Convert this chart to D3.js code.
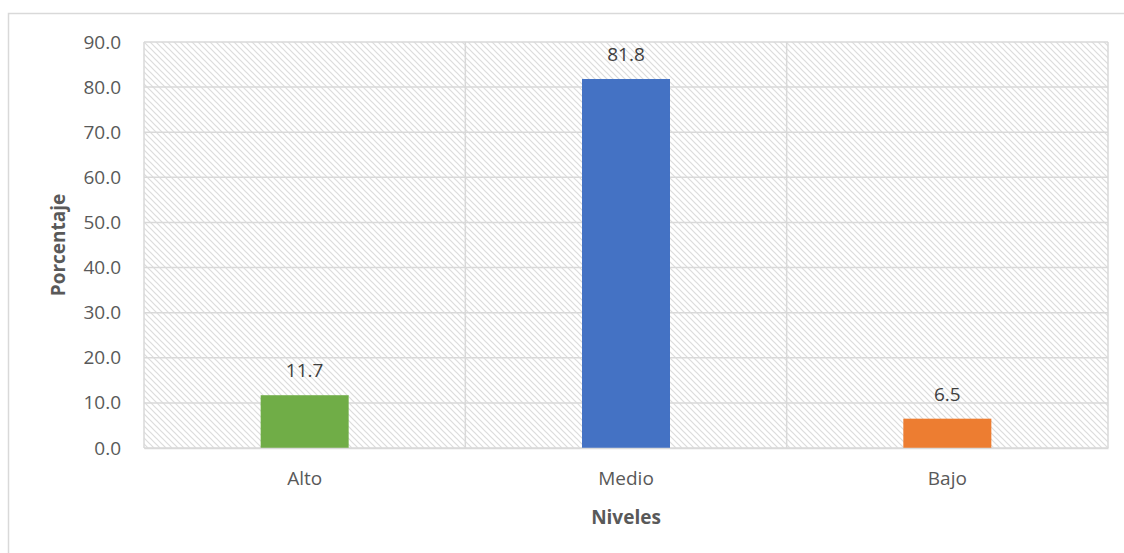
<!DOCTYPE html>
<html>
<head>
<meta charset="utf-8">
<script src="https://cdn.jsdelivr.net/npm/d3@7"></script>
<style>
  body { margin: 0; background: #fff; }
  text { font-family: "Open Sans", Lato, sans-serif; }
</style>
</head>
<body>
<div id="chart-container"></div>
<script>
// Niveles vs porcentaje
const categories = ["Alto", "Medio", "Bajo"];
const values = [11.7, 81.8, 6.5];
const barColors = ["#70AD47", "#4472C4", "#ED7D31"];
const yTicks = [0, 10, 20, 30, 40, 50, 60, 70, 80, 90];

const width = 1124, height = 553;
const plot = { left: 144, right: 1108, top: 42, bottom: 448 };
const fontFam = "'Open Sans', Lato, sans-serif";
const fs = "19px";

const svg = d3.select("#chart-container")
  .append("svg")
  .attr("width", width)
  .attr("height", height);

// outer chart border
svg.append("rect")
  .attr("x", 8.5)
  .attr("y", 13.5)
  .attr("width", width)
  .attr("height", height)
  .attr("fill", "#fff")
  .attr("stroke", "#d9d9d9")
  .attr("stroke-width", 1.5);

// hatch pattern for the plot background
const pat = svg.append("defs").append("pattern")
  .attr("id", "hatch")
  .attr("patternUnits", "userSpaceOnUse")
  .attr("width", 6)
  .attr("height", 6);
pat.append("rect").attr("width", 6).attr("height", 6).attr("fill", "#fff");
pat.append("path")
  .attr("d", "M-1,-1 L7,7 M-1,5 L1,7 M5,-1 L7,1")
  .attr("stroke", "#dcdcdc")
  .attr("stroke-width", 1.2);

const xScale = d3.scaleBand()
  .domain(categories)
  .range([plot.left, plot.right])
  .paddingInner(0)
  .paddingOuter(0);

const yScale = d3.scaleLinear()
  .domain([0, 90])
  .range([plot.bottom, plot.top]);

svg.append("rect")
  .attr("x", plot.left)
  .attr("y", plot.top)
  .attr("width", plot.right - plot.left)
  .attr("height", plot.bottom - plot.top)
  .attr("fill", "url(#hatch)");

// horizontal gridlines
svg.append("g")
  .selectAll("line")
  .data(yTicks)
  .enter()
  .append("line")
  .attr("x1", plot.left)
  .attr("x2", plot.right)
  .attr("y1", d => yScale(d))
  .attr("y2", d => yScale(d))
  .attr("stroke", "#d9d9d9")
  .attr("stroke-width", 1.5);

// vertical gridlines at category boundaries
const bounds = categories.map(c => xScale(c)).concat([plot.right]);
svg.append("g")
  .selectAll("line")
  .data(bounds)
  .enter()
  .append("line")
  .attr("x1", d => d)
  .attr("x2", d => d)
  .attr("y1", plot.top)
  .attr("y2", plot.bottom)
  .attr("stroke", "#d9d9d9")
  .attr("stroke-width", 1.5);

// bars
const barW = 88;
svg.append("g")
  .selectAll("rect")
  .data(values)
  .enter()
  .append("rect")
  .attr("x", (d, i) => xScale(categories[i]) + xScale.bandwidth() / 2 - barW / 2)
  .attr("y", d => yScale(d))
  .attr("width", barW)
  .attr("height", d => yScale(0) - yScale(d))
  .attr("fill", (d, i) => barColors[i]);

// value labels
svg.append("g")
  .selectAll("text")
  .data(values)
  .enter()
  .append("text")
  .attr("x", (d, i) => xScale(categories[i]) + xScale.bandwidth() / 2)
  .attr("y", d => yScale(d) - 18)
  .attr("text-anchor", "middle")
  .attr("font-size", fs)
  .attr("fill", "#404040")
  .text(d => d.toFixed(1));

// y axis
const yAxis = d3.axisLeft(yScale)
  .tickValues(yTicks)
  .tickFormat(d3.format(".1f"))
  .tickSize(0)
  .tickPadding(23);
const yg = svg.append("g")
  .attr("transform", `translate(${plot.left},0)`)
  .call(yAxis);
yg.select(".domain").remove();
yg.selectAll("text")
  .attr("font-size", fs)
  .attr("fill", "#595959")
  .attr("font-family", fontFam);

// x axis
const xAxis = d3.axisBottom(xScale).tickSize(0).tickPadding(24);
const xg = svg.append("g")
  .attr("transform", `translate(0,${plot.bottom})`)
  .call(xAxis);
xg.select(".domain").attr("stroke", "#d9d9d9").attr("stroke-width", 1.5);
xg.selectAll("text")
  .attr("font-size", fs)
  .attr("fill", "#595959")
  .attr("font-family", fontFam);

// axis titles
svg.append("text")
  .attr("x", (plot.left + plot.right) / 2)
  .attr("y", 524)
  .attr("text-anchor", "middle")
  .attr("font-size", fs)
  .attr("font-weight", "bold")
  .attr("fill", "#595959")
  .text("Niveles");

svg.append("text")
  .attr("transform", "rotate(-90)")
  .attr("x", -(plot.top + plot.bottom) / 2)
  .attr("y", 65)
  .attr("text-anchor", "middle")
  .attr("font-size", fs)
  .attr("font-weight", "bold")
  .attr("fill", "#595959")
  .text("Porcentaje");
</script>
</body>
</html>
